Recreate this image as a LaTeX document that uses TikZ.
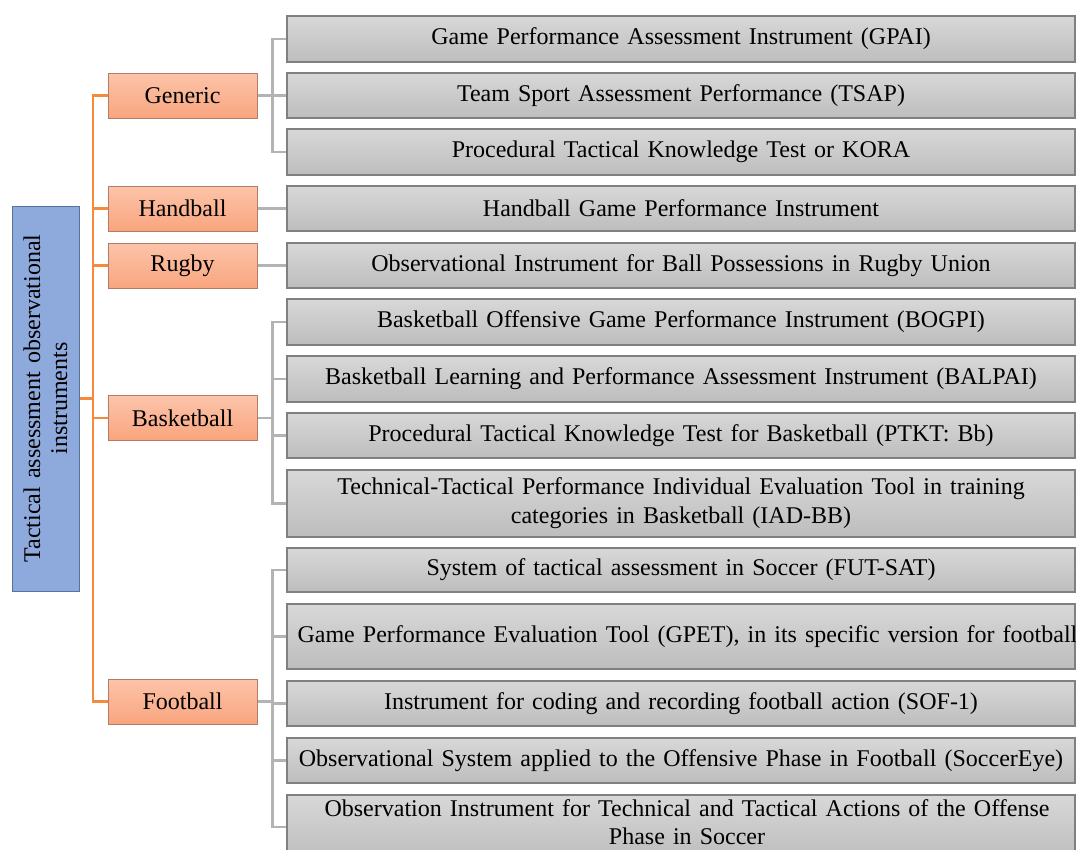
\documentclass[tikz,border=0pt]{standalone}
\usepackage{fontspec}
\setmainfont[WordSpace=1.35]{Liberation Serif}
\usetikzlibrary{backgrounds}

\definecolor{gtop}{HTML}{D8D8D8}
\definecolor{gbot}{HTML}{BDBDBD}
\definecolor{gborder}{HTML}{808080}
\definecolor{otop}{HTML}{FCC4AA}
\definecolor{obot}{HTML}{F9A57E}
\definecolor{oborder}{HTML}{B47B66}
\definecolor{bfill}{HTML}{8EA9DB}
\definecolor{bborder}{HTML}{56729F}
\definecolor{olinec}{HTML}{F5893C}
\definecolor{glinec}{HTML}{B3B3B3}

\begin{document}
\begin{tikzpicture}[x=1pt,y=-1pt,
  font=\fontsize{24}{29}\selectfont,
  item/.style={draw=gborder, line width=1.3pt, top color=gtop, bottom color=gbot,
    minimum width=788pt, minimum height=45pt, inner sep=0pt, align=center},
  cat/.style={draw=oborder, line width=1pt, top color=otop, bottom color=obot,
    minimum width=149pt, minimum height=45pt, inner sep=0pt},
  rootbox/.style={draw=bborder, line width=1pt, fill=bfill, rotate=90,
    minimum width=385pt, minimum height=67pt, inner sep=0pt, align=center,
    font=\fontsize{24}{27}\selectfont},
  oline/.style={draw=olinec, line width=2.4pt},
  gline/.style={draw=glinec, line width=2.4pt}
]
\useasboundingbox (0,0) rectangle (1076,849);
\clip (0,0) rectangle (1076,849);

% root
\node[rootbox] (root) at (45.5,398.5) {Tactical assessment observational\\instruments};

% categories
\node[cat] (o1) at (182.5,95.5) {Generic};
\node[cat] (o2) at (182.5,208.5) {Handball};
\node[cat] (o3) at (182.5,265.5) {Rugby};
\node[cat] (o4) at (182.5,418) {Basketball};
\node[cat] (o5) at (182.5,701.5) {Football};

% items
\node[item, minimum height=46pt] (g1) at (681,39) {Game Performance Assessment Instrument (GPAI)};
\node[item] (g2) at (681,95.5) {Team Sport Assessment Performance (TSAP)};
\node[item, minimum height=46pt] (g3) at (681,152) {Procedural Tactical Knowledge Test or KORA};
\node[item] (g4) at (681,208.5) {Handball Game Performance Instrument};
\node[item] (g5) at (681,265.5) {Observational Instrument for Ball Possessions in Rugby Union};
\node[item, minimum height=46pt] (g6) at (681,322) {Basketball Offensive Game Performance Instrument (BOGPI)};
\node[item, minimum height=46pt] (g7) at (681,379) {Basketball Learning and Performance Assessment Instrument (BALPAI)};
\node[item] (g8) at (681,435.5) {Procedural Tactical Knowledge Test for Basketball (PTKT: Bb)};
\node[item, minimum height=67pt] (g9) at (681,503.5) {Technical-Tactical Performance Individual Evaluation Tool in training\\categories in Basketball (IAD-BB)};
\node[item, minimum height=44pt] (g10) at (681,570) {System of tactical assessment in Soccer (FUT-SAT)};
\node[item, minimum height=65pt] (g11) at (681,636.5) {};
\node[anchor=west, inner sep=0pt] (g11t) at ([xshift=11pt]g11.west) {Game Performance Evaluation Tool (GPET), in its specific version for football};
\node[item] (g12) at (681,703.5) {Instrument for coding and recording football action (SOF-1)};
\node[item] (g13) at (681,760.5) {Observational System applied to the Offensive Phase in Football (SoccerEye)};
\node[item, minimum height=64pt] (g14) at (681,827) {};
\node[align=center, inner sep=0pt, font=\fontsize{24}{28}\selectfont] (g14t) at (687,822.5) {Observation Instrument for Technical and Tactical Actions of the Offense\\Phase in Soccer};

\coordinate (spine) at (93,0);

\begin{scope}[on background layer]
  % orange tree
  \draw[oline] (o1.west) -- (o1.west -| spine) -- (o5.west -| spine) -- (o5.west);
  \draw[oline] (o2.west) -- (o2.west -| spine);
  \draw[oline] (o3.west) -- (o3.west -| spine);
  \draw[oline] (o4.west) -- (o4.west -| spine);
  \draw[oline] (root.south) -- (root.south -| spine);
  % gray connectors
  \foreach \p/\c in {o1/g1,o1/g2,o1/g3,o4/g6,o4/g7,o4/g8,o4/g9,o5/g10,o5/g11,o5/g12,o5/g13,o5/g14}{
    \draw[gline] (\p.east) -- ++(15pt,0) |- (\c.west);
  }
  \draw[gline] (o2.east) -- (g4.west);
  \draw[gline] (o3.east) -- (g5.west);
\end{scope}
\end{tikzpicture}
\end{document}
